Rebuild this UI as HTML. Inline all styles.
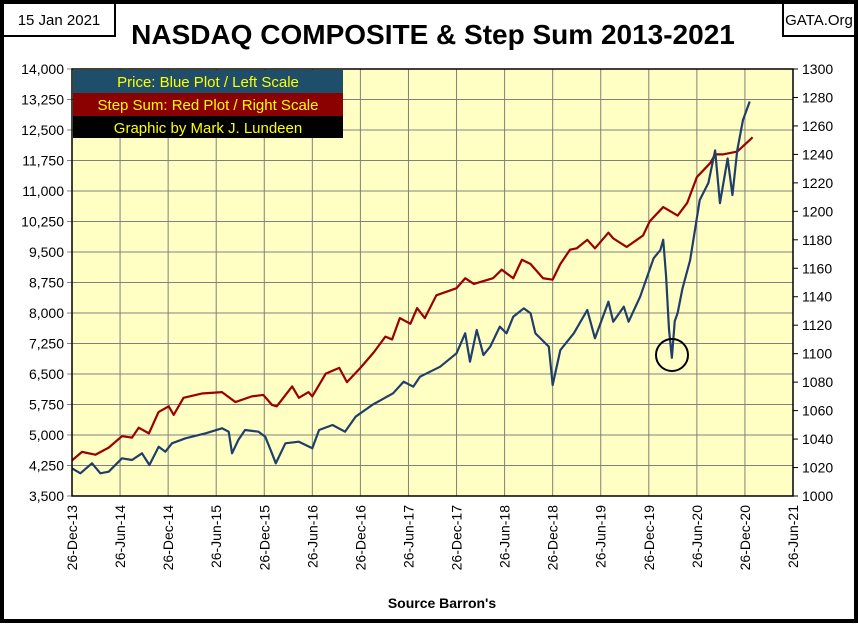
<!DOCTYPE html>
<html><head><meta charset="utf-8"><style>
body{margin:0;background:#fff;}
svg text{font-family:"Liberation Sans",sans-serif;}
</style></head><body>
<svg id="chart" width="858" height="623" xmlns="http://www.w3.org/2000/svg">
<rect x="2" y="2" width="854" height="619" fill="#fff" stroke="#000" stroke-width="4"/>
<rect x="3" y="3" width="112" height="33" fill="#fff" stroke="#000" stroke-width="2"/>
<text x="59" y="25" font-size="15" text-anchor="middle">15 Jan 2021</text>
<text x="433" y="44" font-size="28" font-weight="bold" text-anchor="middle">NASDAQ COMPOSITE &amp; Step Sum 2013-2021</text>
<rect x="783" y="3" width="72" height="33" fill="#fff" stroke="#000" stroke-width="2"/>
<text x="819" y="25" font-size="15" text-anchor="middle">GATA.Org</text>
<rect x="72" y="69" width="721" height="427" fill="#ffffc4"/>
<g id="grid"></g>
<g id="series"></g>
<circle cx="672" cy="355" r="16" fill="none" stroke="#000" stroke-width="2"/>
<rect x="72" y="69" width="721" height="427" fill="none" stroke="#000" stroke-width="1.5"/>
<g id="axes"></g>
<rect x="73" y="70" width="270" height="23" fill="#1f4e6a"/>
<text x="208" y="87" font-size="15" fill="#ffff00" text-anchor="middle">Price:  Blue Plot / Left Scale</text>
<rect x="73" y="93" width="270" height="23" fill="#8b0000"/>
<text x="208" y="110" font-size="15" fill="#ffff00" text-anchor="middle">Step Sum: Red Plot / Right Scale</text>
<rect x="73" y="116" width="270" height="22" fill="#000"/>
<text x="208" y="133" font-size="15" fill="#ffff00" text-anchor="middle">Graphic by Mark J. Lundeen</text>
<text x="442" y="608" font-size="14" font-weight="bold" text-anchor="middle">Source Barron's</text>
</svg>
<script>
const xLabels=["26-Dec-13","26-Jun-14","26-Dec-14","26-Jun-15","26-Dec-15","26-Jun-16","26-Dec-16","26-Jun-17","26-Dec-17","26-Jun-18","26-Dec-18","26-Jun-19","26-Dec-19","26-Jun-20","26-Dec-20","26-Jun-21"];
const leftTicks=[3500,4250,5000,5750,6500,7250,8000,8750,9500,10250,11000,11750,12500,13250,14000];
const rightTicks=[1000,1020,1040,1060,1080,1100,1120,1140,1160,1180,1200,1220,1240,1260,1280,1300];
const priceT=[0,0.087,0.208,0.295,0.382,0.52,0.624,0.728,0.805,0.902,0.971,1.04,1.18,1.39,1.56,1.63,1.665,1.73,1.8,1.94,2.01,2.08,2.12,2.22,2.36,2.5,2.57,2.71,2.84,2.95,3.13,3.34,3.45,3.55,3.62,3.83,4.0,4.09,4.14,4.21,4.28,4.35,4.45,4.52,4.59,4.7,4.77,4.82,4.89,4.96,5.0,5.08,5.22,5.36,5.44,5.58,5.63,5.74,5.79,5.91,6.05,6.12,6.15,6.18,6.21,6.24,6.27,6.3,6.35,6.43,6.53,6.62,6.69,6.74,6.82,6.87,6.92,6.98,7.05];
const priceV=[4181,4058,4304,4058,4098,4427,4385,4550,4262,4712,4589,4796,4919,5042,5165,5081,4550,4877,5123,5081,4958,4550,4304,4796,4835,4673,5123,5246,5081,5450,5750,6025,6311,6188,6434,6680,7009,7501,6803,7582,6967,7171,7663,7501,7909,8115,7993,7501,7336,7171,6230,7090,7501,8074,7378,8278,7786,8155,7786,8401,9345,9549,9800,8900,7600,6900,7800,8000,8600,9300,10780,11200,12000,10700,11800,10900,12000,12750,13200];
const stepT=[0,0.104,0.243,0.382,0.52,0.624,0.694,0.8,0.9,1.006,1.058,1.16,1.35,1.56,1.7,1.87,1.99,2.08,2.13,2.29,2.36,2.46,2.5,2.64,2.78,2.86,3.0,3.14,3.26,3.33,3.41,3.52,3.59,3.67,3.79,4.0,4.09,4.18,4.38,4.47,4.59,4.68,4.77,4.9,5.0,5.08,5.18,5.25,5.36,5.44,5.58,5.63,5.77,5.94,6.01,6.15,6.3,6.4,6.5,6.64,6.69,6.77,6.92,7.08];
const stepV=[1025,1031,1029,1034,1042,1041,1048,1044,1059,1063,1057,1069,1072,1073,1066,1070,1071,1064,1063,1077,1069,1073,1070,1086,1090,1080,1090,1101,1112,1110,1125,1121,1132,1125,1141,1146,1153,1149,1153,1159,1153,1166,1163,1153,1152,1163,1173,1174,1180,1174,1185,1181,1175,1183,1193,1203,1197,1206,1224,1234,1240,1240,1242,1252];
const X0=72,X1=793,Y0=69,Y1=496,NS="http://www.w3.org/2000/svg";
const xS=t=>X0+t/7.5*(X1-X0);
const yL=v=>Y1-(v-3500)/10500*(Y1-Y0);
const yR=v=>Y1-(v-1000)/300*(Y1-Y0);
function mk(tag,attrs,parent){const e=document.createElementNS(NS,tag);for(const k in attrs)e.setAttribute(k,attrs[k]);parent.appendChild(e);return e;}
const grid=document.getElementById('grid'),axes=document.getElementById('axes'),series=document.getElementById('series');
xLabels.forEach((lab,i)=>{const x=xS(i*0.5);
 if(i>0&&i<xLabels.length-1){const l=mk('line',{x1:x,x2:x,y1:Y0,y2:Y1,stroke:'#808080','stroke-width':1},grid);
 
 }
 const t=mk('text',{x:0,y:0,'font-size':14,'text-anchor':'end',transform:`translate(${x+5},505) rotate(-90)`},axes);t.textContent=lab;
 
 });
leftTicks.forEach(v=>{const y=yL(v);
 const l=mk('line',{x1:X0-5,x2:X1,y1:y,y2:y,stroke:'#808080','stroke-width':1},grid);
 
 
 const t=mk('text',{x:X0-8,y:y+5,'font-size':14,'text-anchor':'end'},axes);t.textContent=v.toLocaleString('en-US');
 
 });
rightTicks.forEach(v=>{const y=yR(v);
 const l=mk('line',{x1:X1,x2:X1+5,y1:y,y2:y,stroke:'#000','stroke-width':1},axes);
 
 
 const t=mk('text',{x:X1+9,y:y+5,'font-size':14},axes);t.textContent=v;
 
 });
const sp=mk('polyline',{points:stepT.map((t,i)=>xS(t)+','+yR(stepV[i])).join(' '),fill:'none',stroke:'#9b0000','stroke-width':2.2,'stroke-linejoin':'round'},series);


const pp=mk('polyline',{points:priceT.map((t,i)=>xS(t)+','+yL(priceV[i])).join(' '),fill:'none',stroke:'#1f3f6a','stroke-width':2.2,'stroke-linejoin':'round'},series);


</script>
</body></html>
